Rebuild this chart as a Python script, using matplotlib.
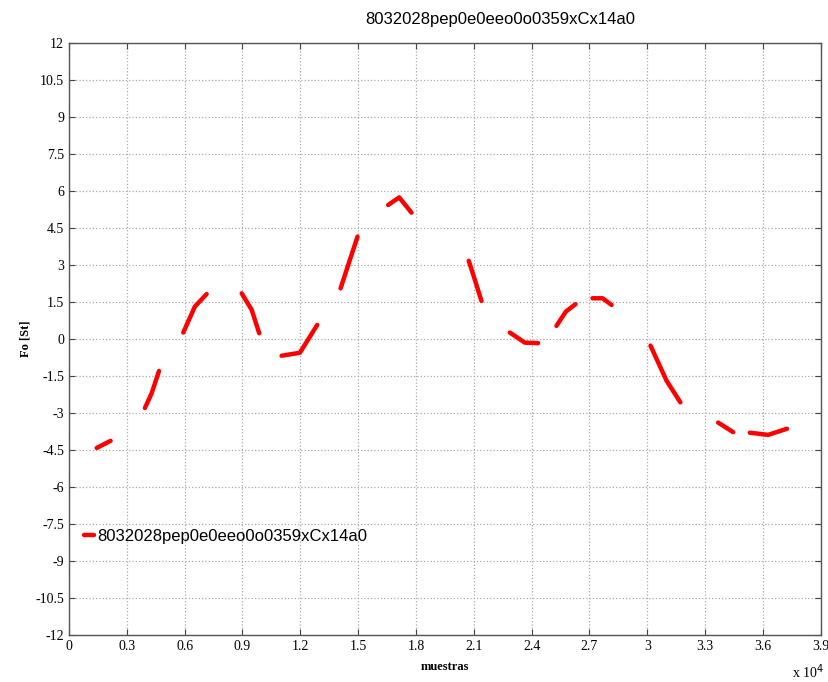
import numpy as np
import matplotlib.pyplot as plt

# segments of Fo, separated by gaps (nan)
samples = [1436, 2160, np.nan,
           3940, 4290, 4670, np.nan,
           5930, 6530, 7140, np.nan,
           8960, 9480, 9870, np.nan,
           11030, 11980, 12880, np.nan,
           14090, 14970, np.nan,
           16560, 17130, 17770, np.nan,
           20740, 21060, 21400, np.nan,
           22870, 23650, 24340, np.nan,
           25290, 25780, 26280, np.nan,
           27160, 27680, 28150, np.nan,
           30170, 31000, 31720, np.nan,
           33680, 34460, np.nan,
           35320, 36270, 37250]
fo = [-4.42, -4.13, np.nan,
      -2.80, -2.20, -1.30, np.nan,
      0.26, 1.31, 1.82, np.nan,
      1.85, 1.18, 0.23, np.nan,
      -0.68, -0.56, 0.57, np.nan,
      2.05, 4.15, np.nan,
      5.43, 5.74, 5.12, np.nan,
      3.17, 2.39, 1.54, np.nan,
      0.26, -0.15, -0.17, np.nan,
      0.53, 1.11, 1.41, np.nan,
      1.65, 1.65, 1.38, np.nan,
      -0.27, -1.69, -2.57, np.nan,
      -3.39, -3.78, np.nan,
      -3.80, -3.89, -3.64]

name = "8032028pep0e0eeo0o0359xCx14a0"
xticks = np.arange(0, 39001, 3000)
xticklabels = ["0", "0.3", "0.6", "0.9", "1.2", "1.5", "1.8", "2.1", "2.4",
               "2.7", "3", "3.3", "3.6", "3.9"]
yticks = np.arange(-12, 12.01, 1.5)
yticklabels = ["-12", "-10.5", "-9", "-7.5", "-6", "-4.5", "-3", "-1.5", "0",
               "1.5", "3", "4.5", "6", "7.5", "9", "10.5", "12"]

fig = plt.figure(figsize=(8.29, 6.82), dpi=100)
ax = fig.add_axes([0.0832, 0.069, 0.9068, 0.868])

ax.plot(samples, fo, color="red", linewidth=3.2, solid_capstyle="round",
        label=name)

ax.set_xlim(0, 39000)
ax.set_ylim(-12, 12)
ax.set_xticks(xticks)
ax.set_xticklabels(xticklabels, family="Liberation Serif", fontsize=10)
ax.set_yticks(yticks)
ax.set_yticklabels(yticklabels, family="Liberation Serif", fontsize=10)
ax.tick_params(direction="in", top=True, right=True, length=4, width=0.8,
               color="#444444")

ax.grid(True, linestyle=":", color="#aaaaaa", linewidth=0.9)
for s in ax.spines.values():
    s.set_color("#555555")
    s.set_linewidth(1.0)

ax.set_xlabel("muestras", family="Liberation Serif", fontsize=9,
              fontweight="bold", labelpad=6)
ax.set_ylabel("Fo [St]", family="Liberation Serif", fontsize=9,
              fontweight="bold")
ax.yaxis.set_label_coords(-0.05, 0.5)

fig.text(0.603, 0.972, name, ha="center", va="center",
         family="Liberation Sans", fontsize=12)
fig.text(0.955, 0.002, r"x 10$^{4}$", ha="left", va="bottom",
         family="Liberation Serif", fontsize=10)

ax.legend(loc="upper left", bbox_to_anchor=(0.0, 0.205), frameon=False,
          handlelength=0.6, handletextpad=0.2,
          prop={"family": "Liberation Sans", "size": 12})

fig.savefig("out.png", dpi=100)
